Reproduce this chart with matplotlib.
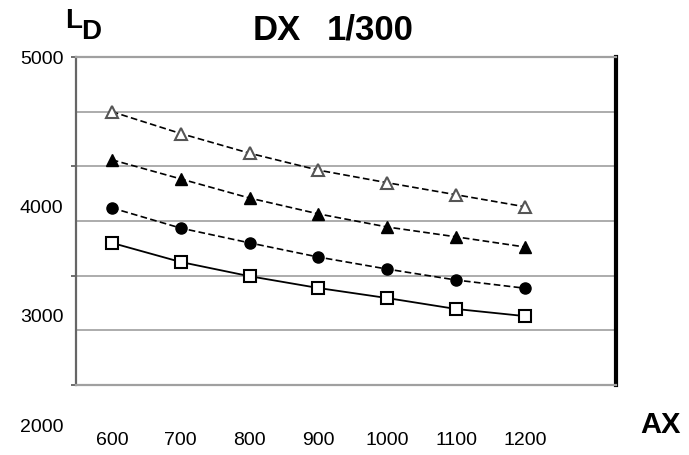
import matplotlib
matplotlib.use("Agg")
import matplotlib.pyplot as plt
import matplotlib.transforms as mtransforms

plt.rcParams["font.family"] = ["Liberation Sans", "DejaVu Sans"]

# data
ax_values = [600, 700, 800, 900, 1000, 1100, 1200]
ld_open_tri = [4500, 4300, 4120, 3965, 3850, 3740, 3630]
ld_filled_tri = [4060, 3885, 3710, 3565, 3445, 3355, 3262]
ld_circle = [3620, 3435, 3300, 3170, 3060, 2960, 2885]
ld_square = [3300, 3125, 2995, 2887, 2795, 2695, 2630]

y_ticks = [2000, 3000, 4000, 5000]
y_grid = [2500, 3000, 3500, 4000, 4500]

fig = plt.figure(figsize=(6.89, 4.55), dpi=100)
ax = fig.add_axes([76 / 689, 1 - 385 / 455, 540 / 689, 328 / 455])

for y in y_grid:
    ax.axhline(y, color="#a6a6a6", lw=1.3, zorder=1)

ax.plot(ax_values, ld_open_tri, ls=(0, (4, 2)), color="black", lw=1.2,
        marker="^", ms=9, mfc="white", mec="#555555", mew=1.5, zorder=3)
ax.plot(ax_values, ld_filled_tri, ls=(0, (4, 2)), color="black", lw=1.2,
        marker="^", ms=9, mfc="black", mec="black", zorder=3)
ax.plot(ax_values, ld_circle, ls=(0, (4, 2)), color="black", lw=1.2,
        marker="o", ms=8, mfc="black", mec="black", zorder=3)
ax.plot(ax_values, ld_square, ls="-", color="black", lw=1.3,
        marker="s", ms=8, mfc="white", mec="black", mew=1.5, zorder=3)

ax.set_xlim(548, 1332)
ax.set_ylim(2000, 5000)

ax.set_xticks(ax_values)
ax.set_xticklabels([str(v) for v in ax_values], fontsize=14)
ax.tick_params(axis="x", length=0, pad=34)

ax.set_yticks(y_ticks)
ax.set_yticklabels([str(v) for v in y_ticks], fontsize=14)
ax.tick_params(axis="y", length=3.6, width=1.2, color="#555555", pad=5.5)

# the lower y labels sit about 40 px under their ticks in the original
shift = mtransforms.ScaledTranslation(0, -0.40, fig.dpi_scale_trans)
for lbl in ax.get_yticklabels():
    if lbl.get_text() != "5000":
        lbl.set_transform(lbl.get_transform() + shift)

for side in ["top", "bottom"]:
    ax.spines[side].set_color("#a0a0a0")
    ax.spines[side].set_linewidth(1.6)
ax.spines["left"].set_color("#666666")
ax.spines["left"].set_linewidth(1.6)
ax.spines["right"].set_color("black")
ax.spines["right"].set_linewidth(3)

fig.text(277 / 689, 1 - 30 / 455, "DX", fontsize=25, fontweight="bold",
         ha="center", va="center")
fig.text(370 / 689, 1 - 30 / 455, "1/300", fontsize=25, fontweight="bold",
         ha="center", va="center")
fig.text(65 / 689, 1 - 21 / 455, "L", fontsize=20, fontweight="bold",
         ha="left", va="center")
fig.text(81 / 689, 1 - 32 / 455, "D", fontsize=20, fontweight="bold",
         ha="left", va="center")
fig.text(660 / 689, 1 - 425 / 455, "AX", fontsize=21, fontweight="bold",
         ha="center", va="center")

fig.savefig("out.png", dpi=100)
